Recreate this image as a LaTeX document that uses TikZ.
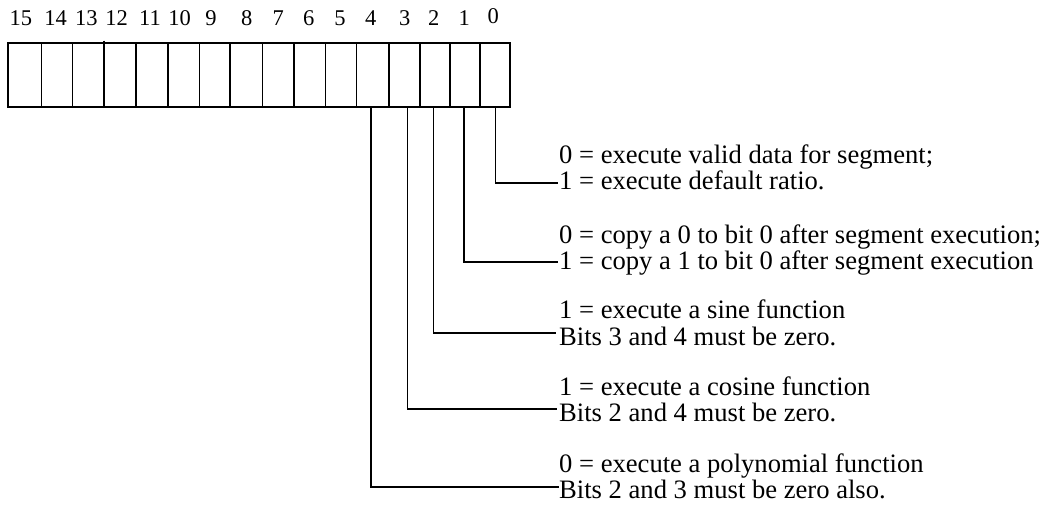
\documentclass[tikz,border=0pt]{standalone}
\usepackage{fontspec}
\setmainfont{Liberation Serif}
\begin{document}
\begin{tikzpicture}[x=1pt,y=-1pt,
  cellbox/.style={draw, line width=1.5pt, inner sep=0pt, outer sep=0pt, minimum height=63.7pt},
  outerbox/.style={line width=2pt},
  leader/.style={line width=1.5pt},
  desc/.style={anchor=base west, inner sep=0pt, font=\fontsize{26.6}{30}\selectfont},
  bitnum/.style={anchor=base, inner sep=0pt, font=\fontsize{22.5}{24}\selectfont}]
\useasboundingbox (0,0) rectangle (1044,521);
% register cells
\foreach \l/\r/\b in {8.3/41.7/15, 41.7/72.7/14, 72.7/104/13, 104/136/12, 136/168/11,
  168/199.3/10, 199.3/230/9, 230/262.3/8, 262.3/294/7, 294/325.7/6, 325.7/356.7/5,
  356.7/389/4, 389/420/3, 420/450/2, 450/480/1, 480/510/0}
  \node[cellbox, minimum width={\r-\l}] (c\b) at ({(\l+\r)/2}, 75.15) {};
\draw[outerbox] (c15.north west) rectangle (c0.south east);
\draw[leader] ([yshift=2.6pt]c12.north west) -- ([yshift=-1.3pt]c12.south west);
% bit numbers
\foreach \x/\b in {20.9/15, 55.5/14, 86.3/13, 116.7/12, 150/11, 179.7/10, 211/9,
  246.7/8, 278.3/7, 308.7/6, 340/5, 370.8/4, 404.7/3, 433.8/2, 464.2/1}
  \node[bitnum] (n\b) at (\x, 26) {\b};
\node[bitnum] (n0) at (493.3, 24) {0};
% descriptions
\node[desc] (t0a) at (559, 164) {0 = execute valid data for segment;};
\node[desc] (t0b) at (559, 190) {1 = execute default ratio.};
\node[desc] (t1a) at (559, 244) {0 = copy a 0 to bit 0 after segment execution;};
\node[desc] (t1b) at (559, 270) {1 = copy a 1 to bit 0 after segment execution};
\node[desc] (t2a) at (559, 319) {1 = execute a sine function};
\node[desc] (t2b) at (559, 345) {Bits 3 and 4 must be zero.};
\node[desc] (t3a) at (559, 395) {1 = execute a cosine function};
\node[desc] (t3b) at (559, 421) {Bits 2 and 4 must be zero.};
\node[desc] (t4a) at (559, 472) {0 = execute a polynomial function};
\node[desc] (t4b) at (559, 498) {Bits 2 and 3 must be zero also.};
% leader ends
\coordinate (e0) at (557.5, 183);
\coordinate (e1) at (558, 262);
\coordinate (e2) at (556, 333);
\coordinate (e3) at (557, 409);
\coordinate (e4) at (559, 487);
% leaders
\draw[leader] ([xshift=0.3pt]c0.south) |- (e0);
\draw[leader] ([xshift=-1pt]c1.south) |- (e1);
\draw[leader] ([xshift=-1.7pt]c2.south) |- (e2);
\draw[leader] ([xshift=3.2pt]c3.south) |- (e3);
\draw[leader] ([xshift=-2.1pt]c4.south) |- (e4);
\end{tikzpicture}
\end{document}
